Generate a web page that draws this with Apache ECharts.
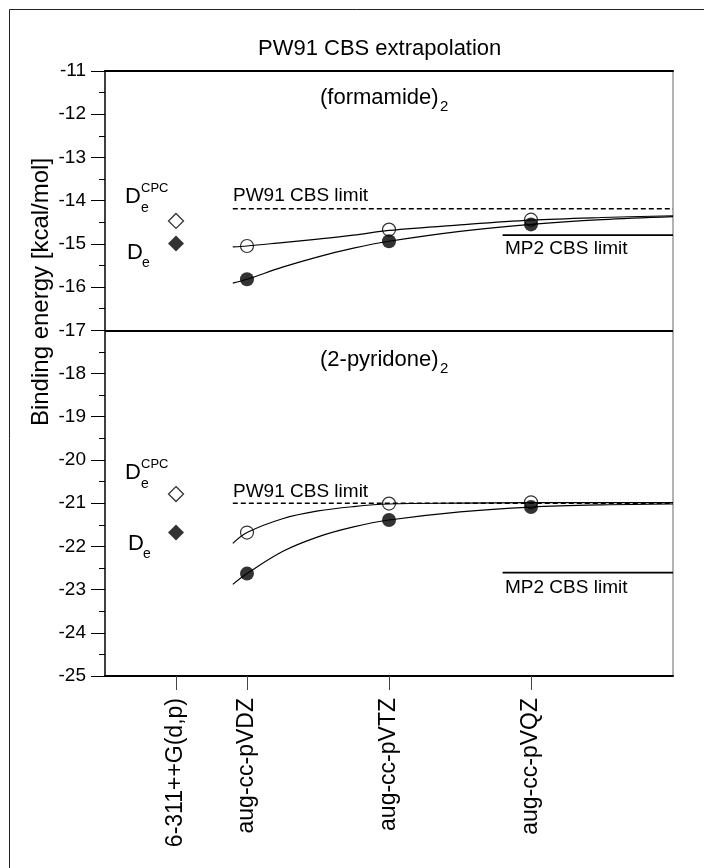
<!DOCTYPE html>
<html>
<head>
<meta charset="utf-8">
<script src="https://cdn.jsdelivr.net/npm/echarts@6/dist/echarts.min.js"></script>
<style>
html,body{margin:0;padding:0;background:#fff;}
#chart{width:704px;height:868px;}
</style>
</head>
<body>
<div id="chart"></div>
<script>
// ---- data ----
const xTickValues = [1.5, 2, 3, 4];
const xTickLabels = ['6-311++G(d,p)', 'aug-cc-pVDZ', 'aug-cc-pVTZ', 'aug-cc-pVQZ'];
const yTickMin = -25, yTickMax = -11, yTickStep = 1;

const basisX = [2, 3, 4];
const formOpen   = [-15.05, -14.67, -14.44];
const formFilled = [-15.82, -14.94, -14.55];
const pyrOpen    = [-21.68, -21.01, -20.98];
const pyrFilled  = [-22.63, -21.39, -21.09];

const popleX = 1.5;
const formDiamondOpen = -14.47, formDiamondFilled = -14.99;
const pyrDiamondOpen = -20.79, pyrDiamondFilled = -21.68;

const curveX = [1.9, 2, 2.25, 2.5, 2.75, 3, 3.5, 4, 4.5, 5];
const formOpenCurve   = [-15.07, -15.05, -14.97, -14.89, -14.80, -14.69, -14.56, -14.45, -14.39, -14.35];
const formFilledCurve = [-15.91, -15.82, -15.54, -15.30, -15.10, -14.94, -14.71, -14.55, -14.44, -14.37];
const pyrOpenCurve    = [-21.93, -21.68, -21.36, -21.18, -21.08, -21.02, -21.00, -20.99, -20.99, -20.99];
const pyrFilledCurve  = [-22.88, -22.63, -22.12, -21.78, -21.55, -21.39, -21.20, -21.09, -21.04, -21.02];

const pw91Start = 1.9, mp2Start = 3.8, limitEnd = 5;
const formPW91 = -14.19, formMP2 = -14.80;
const pyrPW91 = -21.0, pyrMP2 = -22.61;
const panelDivider = -17;

// ---- build ----
const FF = '"Liberation Sans", Arial, Helvetica, sans-serif';
const pairs = (xs, ys) => xs.map((x, i) => [x, ys[i]]);

function curve(ys) {
  return {
    type: 'line', data: pairs(curveX, ys), smooth: 0.35,
    showSymbol: false, symbol: 'none', silent: true,
    lineStyle: {color: '#000', width: 1.2}, z: 3
  };
}
function limit(x0, y, dashed) {
  return {
    type: 'line', data: [[x0, y], [limitEnd, y]], symbol: 'none', silent: true,
    lineStyle: {color: '#000', width: dashed ? 1.5 : 1.8, type: dashed ? [5, 3] : 'solid'}, z: 2
  };
}

const chart = echarts.init(document.getElementById('chart'), null, {renderer: 'canvas'});

function txt(x, y, text, size, extra) {
  return {
    type: 'text', x: x, y: y,
    style: Object.assign({text: text, fontSize: size, fontFamily: FF, fill: '#000',
      textAlign: 'left', textVerticalAlign: 'middle'}, (extra || {}))
  };
}

const option = {
  animation: false,
  backgroundColor: '#fff',
  textStyle: {fontFamily: FF},
  grid: {left: 105, right: 31, top: 71, bottom: 192, containLabel: false},
  xAxis: [{
    type: 'value', min: 1, max: 5, position: 'bottom',
    axisLine: {onZero: false, lineStyle: {color: '#000', width: 2}},
    axisTick: {show: true, customValues: xTickValues, length: 14, lineStyle: {color: '#444', width: 1}},
    axisLabel: {
      customValues: xTickValues, rotate: 90, margin: 22, fontSize: 23, color: '#000', fontFamily: FF,
      hideOverlap: false,
      formatter: v => { const i = xTickValues.indexOf(v); return i >= 0 ? xTickLabels[i] : ''; }
    },
    splitLine: {show: false}
  }, {
    type: 'value', min: 1, max: 5, position: 'top',
    axisLine: {onZero: false, lineStyle: {color: '#000', width: 2}},
    axisTick: {show: false}, axisLabel: {show: false}, splitLine: {show: false}
  }],
  yAxis: [{
    type: 'value', min: yTickMin, max: yTickMax, interval: yTickStep, position: 'left',
    axisLine: {show: true, onZero: false, lineStyle: {color: '#000', width: 1.5}},
    axisTick: {show: true, length: 14, lineStyle: {color: '#000', width: 1}},
    minorTick: {show: true, splitNumber: 2, length: 6, lineStyle: {color: '#000', width: 1}},
    axisLabel: {fontSize: 19, margin: 19, color: '#000', fontFamily: FF},
    splitLine: {show: false}, minorSplitLine: {show: false}
  }, {
    type: 'value', min: yTickMin, max: yTickMax, position: 'right',
    axisLine: {show: true, onZero: false, lineStyle: {color: '#999', width: 1.5}},
    axisTick: {show: false}, axisLabel: {show: false}, splitLine: {show: false}
  }],
  series: [
    Object.assign(curve(formOpenCurve), {
      markLine: {
        symbol: 'none', silent: true, label: {show: false},
        lineStyle: {color: '#000', width: 2, type: 'solid'},
        data: [{yAxis: panelDivider}]
      }
    }),
    curve(formFilledCurve),
    curve(pyrOpenCurve),
    curve(pyrFilledCurve),
    limit(pw91Start, formPW91, true),
    limit(mp2Start, formMP2, false),
    limit(pw91Start, pyrPW91, true),
    limit(mp2Start, pyrMP2, false),
    {
      type: 'scatter', symbol: 'circle', symbolSize: 13, z: 4,
      data: pairs(basisX, formOpen).concat(pairs(basisX, pyrOpen)),
      itemStyle: {color: 'rgba(255,255,255,0)', borderColor: '#000', borderWidth: 1.2}
    },
    {
      type: 'scatter', symbol: 'circle', symbolSize: 14, z: 5,
      data: pairs(basisX, formFilled).concat(pairs(basisX, pyrFilled)),
      itemStyle: {color: '#000', borderColor: '#000', borderWidth: 0}
    },
    {
      type: 'scatter', symbol: 'diamond', symbolSize: 15, z: 4,
      data: [[popleX, formDiamondOpen], [popleX, pyrDiamondOpen]],
      itemStyle: {color: '#fff', borderColor: '#000', borderWidth: 1.3}
    },
    {
      type: 'scatter', symbol: 'diamond', symbolSize: 16, z: 5,
      data: [[popleX, formDiamondFilled], [popleX, pyrDiamondFilled]],
      itemStyle: {color: '#000'}
    }
  ],
  graphic: [
    {type: 'line', shape: {x1: 9.5, y1: 9.5, x2: 9.5, y2: 868}, style: {stroke: '#222', lineWidth: 1}},
    {type: 'line', shape: {x1: 9.5, y1: 9.5, x2: 704, y2: 9.5}, style: {stroke: '#222', lineWidth: 1}},
    txt(258, 49, 'PW91 CBS extrapolation', 22),
    txt(320, 98, '(formamide)', 22),
    txt(440, 107, '2', 15),
    txt(320, 360, '(2-pyridone)', 22),
    txt(440, 369, '2', 15),
    txt(233, 196, 'PW91 CBS limit', 19),
    txt(505, 249, 'MP2 CBS limit', 19),
    txt(233, 492, 'PW91 CBS limit', 19),
    txt(505, 588, 'MP2 CBS limit', 19),
    txt(125, 197, 'D', 22),
    txt(141, 208, 'e', 14),
    txt(141, 188, 'CPC', 13),
    txt(127, 253, 'D', 22),
    txt(142, 263, 'e', 14),
    txt(125, 473, 'D', 22),
    txt(141, 484, 'e', 14),
    txt(141, 464, 'CPC', 13),
    txt(128, 544, 'D', 22),
    txt(143, 554, 'e', 14),
    {
      type: 'text', x: 41, y: 292, rotation: Math.PI / 2,
      style: {text: 'Binding energy [kcal/mol]', fontSize: 24, fontFamily: FF, fill: '#000',
        textAlign: 'center', textVerticalAlign: 'middle'}
    }
  ]
};
chart.setOption(option);
</script>
</body>
</html>
